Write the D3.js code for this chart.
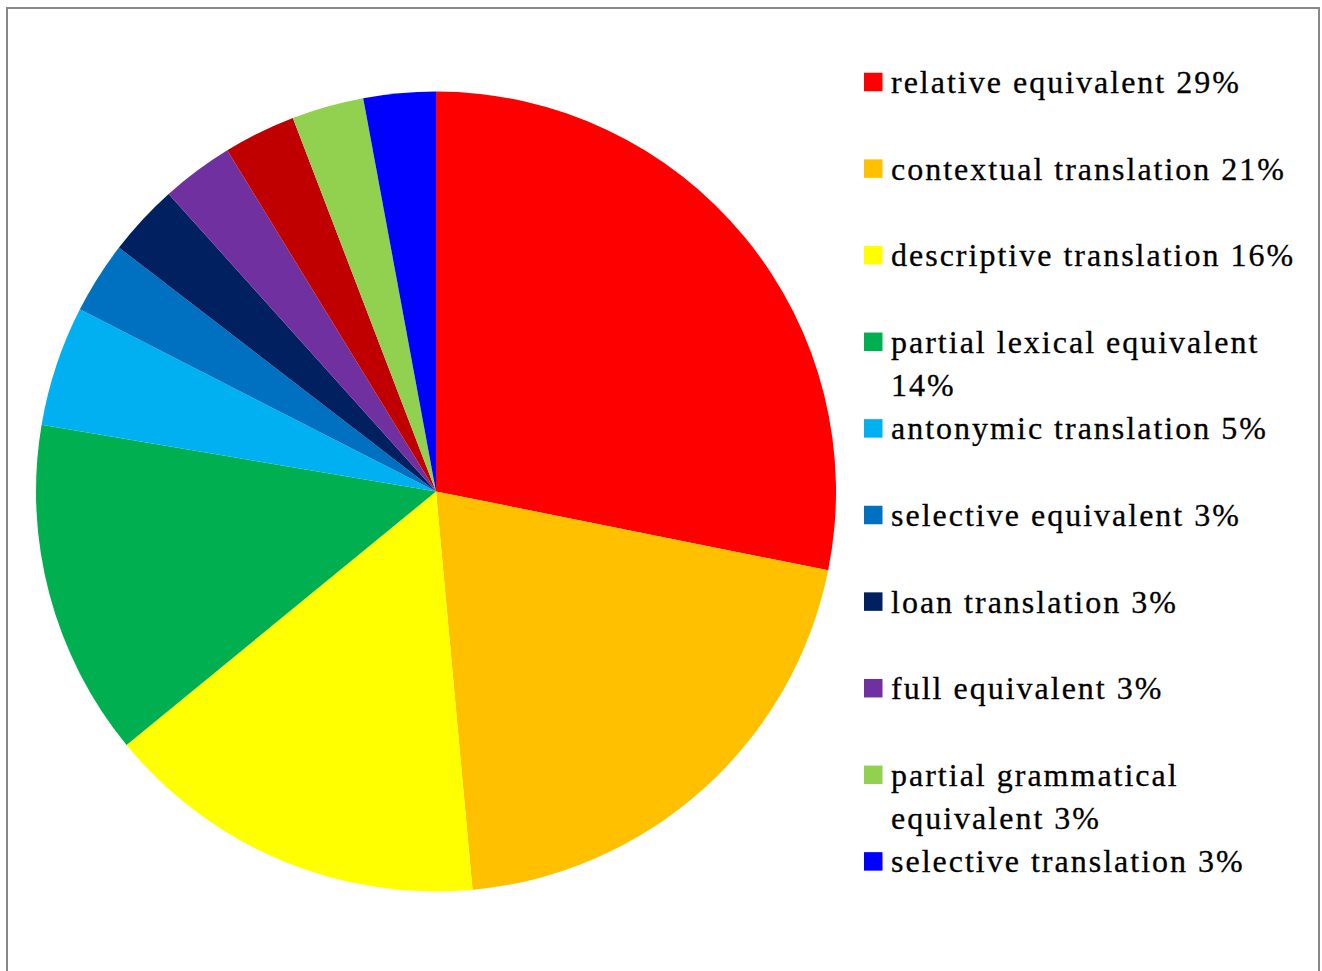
<!DOCTYPE html>
<html>
<head>
<meta charset="utf-8">
<script src="https://cdn.jsdelivr.net/npm/d3@7"></script>
<style>
  html, body { margin: 0; padding: 0; background: #fff; }
  svg { display: block; }
</style>
</head>
<body>
<svg id="chart" width="1322" height="971"></svg>
<script>
// Translation methods, in slice order clockwise from 12 o'clock
const categories = [
  "relative equivalent",
  "contextual translation",
  "descriptive translation",
  "partial lexical equivalent",
  "antonymic translation",
  "selective equivalent",
  "loan translation",
  "full equivalent",
  "other",
  "partial grammatical equivalent",
  "selective translation"
];
const values = [29, 21, 16, 14, 5, 3, 3, 3, 3, 3, 3];
const colors = [
  "#FF0000", "#FFC000", "#FFFF00", "#00B050", "#00B0F0",
  "#0070C0", "#002060", "#7030A0", "#C00000", "#92D050", "#0000FF"
];
// Which categories appear in the legend
const inLegend = [true, true, true, true, true, true, true, true, false, true, true];

const data = categories.map((c, i) => ({ name: c, value: values[i], color: colors[i], legend: inLegend[i] }));

const svg = d3.select("#chart");

// Chart frame
svg.append("rect")
  .attr("x", 7).attr("y", 8)
  .attr("width", 1312).attr("height", 980)
  .attr("fill", "#fff")
  .attr("stroke", "#898989")
  .attr("stroke-width", 2);

// Pie
const cx = 436, cy = 491.5, radius = 400;
const pie = d3.pie().value(d => d.value).sort(null);
const arc = d3.arc().innerRadius(0).outerRadius(radius);

svg.append("g")
  .attr("transform", `translate(${cx},${cy})`)
  .selectAll("path")
  .data(pie(data))
  .join("path")
  .attr("d", arc)
  .attr("fill", d => d.data.color);

// Legend
const legendItems = data.filter(d => d.legend);
const legendX = 864, legendY0 = 82, legendStep = 86.6, swatch = 18.5;
const textX = 891, maxTextWidth = 420, lineHeight = 43;

const legend = svg.append("g")
  .attr("font-family", "'Liberation Serif', 'Times New Roman', serif")
  .attr("font-size", 32)
  .attr("letter-spacing", 2)
  .attr("fill", "#000")
  .attr("stroke", "#000")
  .attr("stroke-width", 0.3);

legendItems.forEach((d, i) => {
  const y = legendY0 + i * legendStep;
  legend.append("rect")
    .attr("x", legendX).attr("y", y - swatch / 2)
    .attr("width", swatch).attr("height", swatch)
    .attr("fill", d.color)
    .attr("stroke", "none");

  const label = `${d.name} ${d.value}%`;
  const text = legend.append("text").attr("x", textX).attr("y", y + 11);
  // Wrap words onto a second line when the label is too wide
  const words = label.split(" ");
  let line = [];
  let tspan = text.append("tspan").attr("x", textX).attr("dy", 0);
  words.forEach(w => {
    line.push(w);
    tspan.text(line.join(" "));
    if (tspan.node().getComputedTextLength() > maxTextWidth && line.length > 1) {
      line.pop();
      tspan.text(line.join(" "));
      line = [w];
      tspan = text.append("tspan").attr("x", textX).attr("dy", lineHeight).text(w);
    }
  });
});
</script>
</body>
</html>
